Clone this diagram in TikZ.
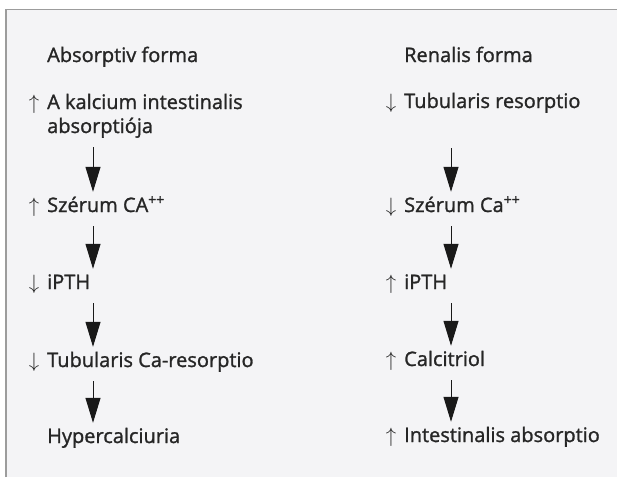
\documentclass[tikz,border=0pt]{standalone}
\usepackage{fontspec}
\setmainfont{Open Sans}[FakeBold=1.3]
\usetikzlibrary{arrows.meta}
\definecolor{panel}{HTML}{F4F4F6}
\definecolor{framegray}{HTML}{9C9C9C}
\definecolor{ink}{HTML}{262626}
\newcommand{\upmark}{\llap{$\uparrow$\hspace{8pt}}}
\newcommand{\downmark}{\llap{$\downarrow$\hspace{8pt}}}
\tikzset{item/.style={anchor=base west,inner xsep=0pt,inner ysep=6pt,text height=14pt,text depth=4pt,text=ink,font=\fontsize{20}{24}\selectfont}}
\tikzset{flow/.style={-{Triangle[length=25pt,width=15pt]},line width=1pt,color=black!90,shorten <=4pt}}

\begin{document}
\begin{tikzpicture}[x=1pt,y=-1pt]
% \draw[help lines] (0,0) grid (617,477);
\useasboundingbox (0,0) rectangle (617,477);
\fill[panel] (6,9.5) rectangle (617,477);
\draw[framegray,line width=1.6pt] (6,477) -- (6,9.5) -- (617,9.5);
\coordinate (lx) at (93,0);
\coordinate (rx) at (451,0);
%
\node (ahead) [item] at (47,62) {Absorptiv forma};
\node (a1) [item,align=left] at (47,133) {\upmark A kalcium intestinalis\\absorptiója};
\node (a2) [item] at (47,212) {\upmark Szérum CA\textsuperscript{++}};
\node (a3) [item] at (47,289) {\downmark iPTH};
\node (a4) [item] at (47,367) {\downmark Tubularis Ca-resorptio};
\node (a5) [item] at (47,443) {Hypercalciuria};
%
\node (rhead) [item] at (404,62) {Renalis forma};
\node (r1) [item] at (404,108) {\downmark Tubularis resorptio};
\node (r2) [item] at (404,212) {\downmark Szérum Ca\textsuperscript{++}};
\node (r3) [item] at (404,289) {\upmark iPTH};
\node (r4) [item] at (404,366) {\upmark Calcitriol};
\node (r5) [item] at (404,442) {\upmark Intestinalis absorptio};
%
\draw[flow] (a1.south -| lx) -- (a2.north -| lx);
\draw[flow] (a2.south -| lx) -- (a3.north -| lx);
\draw[flow] (a3.south -| lx) -- (a4.north -| lx);
\draw[flow] (a4.south -| lx) -- (a5.north -| lx);
%
\draw[flow,shorten <=30pt] (r1.south -| rx) -- (r2.north -| rx);
\draw[flow] (r2.south -| rx) -- (r3.north -| rx);
\draw[flow] (r3.south -| rx) -- (r4.north -| rx);
\draw[flow] (r4.south -| rx) -- (r5.north -| rx);
\end{tikzpicture}
\end{document}
